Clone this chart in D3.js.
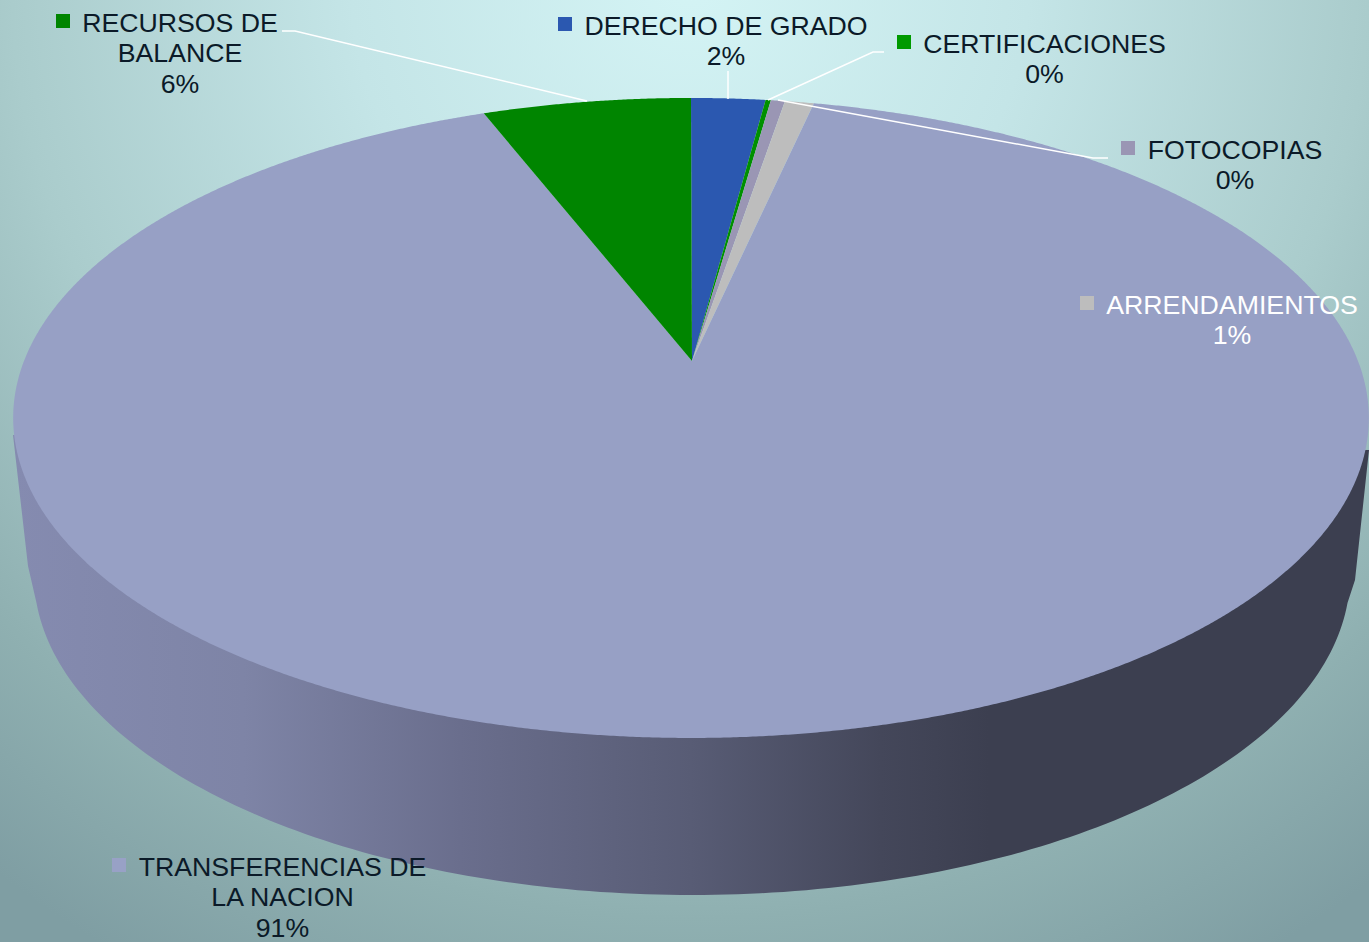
<!DOCTYPE html>
<html><head><meta charset="utf-8">
<script src="https://cdn.jsdelivr.net/npm/d3@7"></script>
<style>html,body{margin:0;padding:0;background:#8fb0b0;overflow:hidden}svg{display:block}text{font-family:"Liberation Sans",Arial,sans-serif}</style>
</head><body><svg id="c" width="1369" height="942"></svg>
<script>
// Data, clockwise from twelve o'clock
const categories = ["DERECHO DE GRADO","CERTIFICACIONES","FOTOCOPIAS","ARRENDAMIENTOS","TRANSFERENCIAS DE LA NACION","RECURSOS DE BALANCE"];
const values = [2.1,0.15,0.4,0.82,90.63,5.9];
const percentLabels = ["2%","0%","0%","1%","91%","6%"];
const colors = ["#2b58b0","#009000","#9a96b4","#bdbdbd","#97a0c5","#008500"];
const swatchColors = ["#2b58b0","#009a00","#9a96b4","#bdbdbd","#98a1c6","#008500"];
const labelLines = [["DERECHO DE GRADO"],["CERTIFICACIONES"],["FOTOCOPIAS"],["ARRENDAMIENTOS"],["TRANSFERENCIAS DE","LA NACION"],["RECURSOS DE","BALANCE"]];
const labelCentres = [[726,25],[1044.5,43],[1235,149],[1232,304],[282.5,866],[180,22]];
const labelColors = ["#0b1a28","#0b1a28","#0b1a28","#ffffff","#0b1a28","#0b1a28"];
const leaders = [
 [[728,71],[728,99]],
 [[884,52],[873,52],[768,100]],
 [[1108,158],[1093,158],[778,100]],
 [[282,31],[295,31],[587,101]]
];
const svg = d3.select("#c"), W=1369, H=942;
const defs = svg.append("defs");
const bg = defs.append("radialGradient").attr("id","bg").attr("gradientUnits","userSpaceOnUse")
  .attr("cx",690).attr("cy",-20).attr("r",1130);
[[0,"#d4f4f5"],[0.3,"#c4e5e7"],[0.6,"#aacccc"],[0.83,"#8fb0b1"],[1,"#7f9ea3"]].forEach(s=>bg.append("stop").attr("offset",s[0]).attr("stop-color",s[1]));
svg.append("rect").attr("width",W).attr("height",H).attr("fill","url(#bg)");

const wall = defs.append("linearGradient").attr("id","wall").attr("gradientUnits","userSpaceOnUse").attr("x1",13).attr("x2",1369).attr("y1",0).attr("y2",0);
[[0,"#858bb0"],[0.17,"#7e84a6"],[0.33,"#6a6e8d"],[0.5,"#585c75"],[0.64,"#44475a"],[0.72,"#3c3f50"],[1,"#3c3f50"]].forEach(s=>wall.append("stop").attr("offset",s[0]).attr("stop-color",s[1]));

// Perspective projection of the pie's circle: the centre lands on the apex, the rim on an ellipse
const apex={x:692,y:361}, cx0=691, persp=-0.178, ya=245.6, d=667;
function rim(theta){
  const u=Math.sin(theta), v=-Math.cos(theta), k=1+persp*v;
  return [cx0+d*u/k, (ya*v+apex.y)/k];
}
const bot={cx:692,cy:575,rx:658,ry:320};
const lower=a=>[bot.cx+bot.rx*Math.cos(a), bot.cy+bot.ry*Math.sin(a)];
const line=d3.line();
const wallPts=[[1369,450],[1355,580]].concat(d3.range(5,176,1).map(a=>lower(a*Math.PI/180))).concat([[28,566],[13,435]]);
svg.append("path").attr("d",line(wallPts)+"Z").attr("fill","url(#wall)");

const arcs=d3.pie().sort(null).value(v=>v)(values);
svg.append("g").selectAll("path").data(arcs).join("path")
 .attr("fill",(a,i)=>colors[i])
 .attr("d",a=>{
   const n=Math.max(2,Math.ceil((a.endAngle-a.startAngle)/0.004));
   const pts=d3.range(n+1).map(i=>rim(a.startAngle+(a.endAngle-a.startAngle)*i/n));
   return line([[apex.x,apex.y],...pts])+"Z";
 });

svg.append("g").selectAll("path").data(leaders).join("path")
 .attr("d",l=>line(l)).attr("fill","none").attr("stroke","#fff").attr("stroke-width",1.5);

const fs=26.7, lh=30.6;
categories.forEach((c,i)=>{
  const g=svg.append("g");
  const [cx,y0]=labelCentres[i];
  const rows=labelLines[i].concat([percentLabels[i]]);
  const t=g.selectAll("text").data(rows).join("text")
    .attr("x",cx).attr("y",(r,j)=>y0+9.5+j*lh).attr("text-anchor","middle").attr("font-size",fs).attr("fill",labelColors[i]).text(r=>r);
  const w=t.node().getComputedTextLength();
  g.append("rect").attr("x",Math.round(cx-w/2-26.5)).attr("y",y0-8).attr("width",14).attr("height",14).attr("fill",swatchColors[i]);
});
</script></body></html>
